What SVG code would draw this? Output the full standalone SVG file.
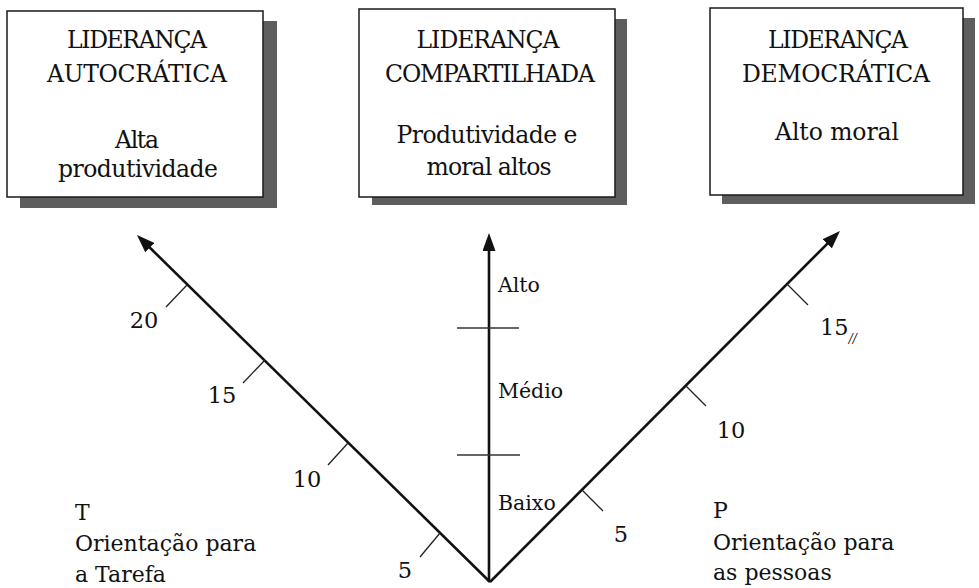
<svg xmlns="http://www.w3.org/2000/svg" width="979" height="588" viewBox="0 0 979 588">
<style>
  .box { fill: #fff; stroke: #1a1a1a; stroke-width: 1.5; }
  .shadow { fill: #5e5e5e; }
  .t { font-family: "DejaVu Serif", "Liberation Serif", serif; fill: #111; }
  .bt { font-size: 23.5px; text-anchor: middle; }
  .lbl { font-size: 22px; }
  .num { font-size: 22.5px; text-anchor: middle; }
  .lvl { font-size: 20.5px; }
  .axis { stroke: #111; stroke-width: 2.6; fill: none; }
  .tick { stroke: #222; stroke-width: 1.3; }
  .div { stroke: #333; stroke-width: 1.3; }
</style>
<defs>
  <marker id="arrow" markerUnits="userSpaceOnUse" markerWidth="18" markerHeight="13" refX="8" refY="6.5" orient="auto">
    <path d="M0,0 L18,6.5 L0,13 z" fill="#111"/>
  </marker>
</defs>
<rect width="979" height="588" fill="#fff"/>

<g id="box-autocratica">
  <rect class="shadow" x="20" y="21" width="257" height="187"/>
  <rect class="box" x="7" y="11" width="256" height="186"/>
  <text class="t bt" x="137" y="48" textLength="140">LIDERANÇA</text>
  <text class="t bt" x="137" y="82" textLength="180">AUTOCRÁTICA</text>
  <text class="t bt" x="137" y="148" textLength="44">Alta</text>
  <text class="t bt" x="138" y="177" textLength="160">produtividade</text>
</g>

<g id="box-compartilhada">
  <rect class="shadow" x="372" y="19" width="255" height="186"/>
  <rect class="box" x="359" y="9" width="256" height="188"/>
  <text class="t bt" x="488" y="48" textLength="143">LIDERANÇA</text>
  <text class="t bt" x="490" y="82" textLength="210">COMPARTILHADA</text>
  <text class="t bt" x="487" y="143" textLength="181">Produtividade e</text>
  <text class="t bt" x="489" y="175" textLength="125">moral altos</text>
</g>

<g id="box-democratica">
  <rect class="shadow" x="722" y="18" width="253" height="186"/>
  <rect class="box" x="710" y="8" width="253" height="187"/>
  <text class="t bt" x="838" y="48" textLength="140">LIDERANÇA</text>
  <text class="t bt" x="836" y="82" textLength="188">DEMOCRÁTICA</text>
  <text class="t bt" x="837" y="140" textLength="124">Alto moral</text>
</g>

<g id="connectors">
  <line class="axis" x1="489" y1="582" x2="489" y2="243" marker-end="url(#arrow)"/>
  <line class="axis" x1="490" y1="582" x2="144.1" y2="242" marker-end="url(#arrow)"/>
  <line class="axis" x1="490" y1="582" x2="832.9" y2="238.1" marker-end="url(#arrow)"/>
</g>

<g id="task-scale">
  <line class="tick" x1="187" y1="285" x2="166" y2="307"/>
  <line class="tick" x1="265" y1="360" x2="243" y2="383"/>
  <line class="tick" x1="348" y1="443" x2="328" y2="465"/>
  <line class="tick" x1="440" y1="533" x2="420" y2="557"/>
  <text class="t num" x="144" y="328">20</text>
  <text class="t num" x="222" y="403">15</text>
  <text class="t num" x="307" y="487">10</text>
  <text class="t num" x="405" y="578">5</text>
</g>

<g id="people-scale">
  <line class="tick" x1="582" y1="490" x2="603" y2="511"/>
  <line class="tick" x1="686" y1="386" x2="706" y2="406"/>
  <line class="tick" x1="787" y1="284" x2="808" y2="305"/>
  <text class="t num" x="621" y="542">5</text>
  <text class="t num" x="731" y="438">10</text>
  <text class="t" font-size="22.5" x="820" y="335">15<tspan font-size="12" dy="8" font-style="italic">//</tspan></text>
</g>

<g id="level-scale">
  <line class="div" x1="457" y1="328" x2="519" y2="328"/>
  <line class="div" x1="457" y1="455" x2="520" y2="455"/>
  <text class="t lvl" x="498" y="292">Alto</text>
  <text class="t lvl" x="498" y="398">Médio</text>
  <text class="t lvl" x="498" y="510">Baixo</text>
</g>

<g id="label-tarefa">
  <text class="t lbl" x="75" y="520">T</text>
  <text class="t lbl" x="75" y="551">Orientação para</text>
  <text class="t lbl" x="75" y="582">a Tarefa</text>
</g>

<g id="label-pessoas">
  <text class="t lbl" x="713" y="518">P</text>
  <text class="t lbl" x="713" y="550">Orientação para</text>
  <text class="t lbl" x="713" y="580">as pessoas</text>
</g>
</svg>
